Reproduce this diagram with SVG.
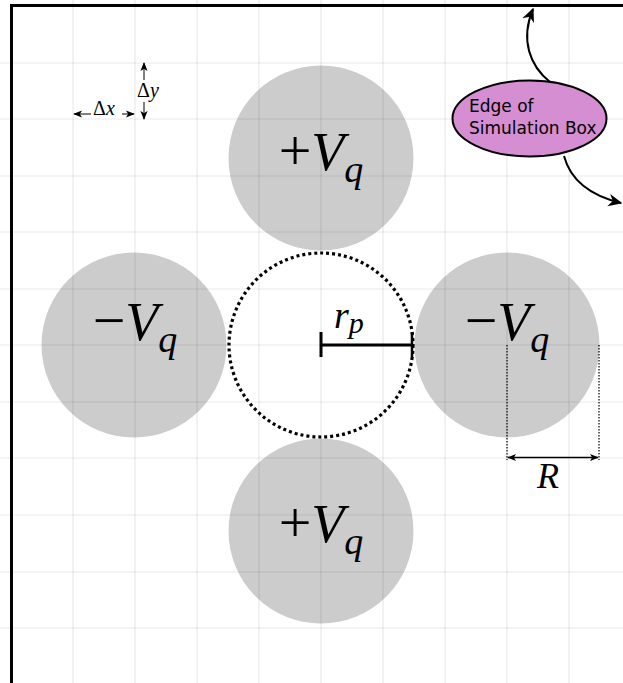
<svg xmlns="http://www.w3.org/2000/svg" width="623" height="683" viewBox="0 0 623 683">
<style>
.disk{fill:#cccccc}
.grid line{stroke:#000;stroke-opacity:0.09;stroke-width:1.2}
.math{font-family:"Liberation Serif","DejaVu Serif",serif;fill:#000}
.it{font-style:italic}
.conn{fill:none;stroke:#000}
.lbl{font-family:"DejaVu Sans","Liberation Sans",sans-serif;font-size:17px;fill:#000}
</style>
<defs>
<marker id="ah" viewBox="0 0 10 10" refX="9" refY="5" markerWidth="14" markerHeight="14" orient="auto" markerUnits="userSpaceOnUse">
<path d="M0,0.5 L10,5 L0,9.5 L3,5 Z" fill="#000"/>
</marker>
<marker id="sa" viewBox="0 0 10 10" refX="9" refY="5" markerWidth="9" markerHeight="9" orient="auto-start-reverse" markerUnits="userSpaceOnUse">
<path d="M0,1 L10,5 L0,9 L2.5,5 Z" fill="#000"/>
</marker>
</defs>
<rect width="623" height="683" fill="#fff"/>
<g id="disk-top"><circle class="disk" cx="321" cy="158" r="92.5"/></g>
<g id="disk-left"><circle class="disk" cx="134" cy="345" r="92.5"/></g>
<g id="disk-right"><circle class="disk" cx="507" cy="345" r="92.5"/></g>
<g id="disk-bottom"><circle class="disk" cx="321" cy="531" r="92.5"/></g>
<g class="grid">
<line x1="73" y1="0" x2="73" y2="683"/>
<line x1="135" y1="0" x2="135" y2="683"/>
<line x1="197" y1="0" x2="197" y2="683"/>
<line x1="259" y1="0" x2="259" y2="683"/>
<line x1="321" y1="0" x2="321" y2="683"/>
<line x1="383" y1="0" x2="383" y2="683"/>
<line x1="445" y1="0" x2="445" y2="683"/>
<line x1="507" y1="0" x2="507" y2="683"/>
<line x1="569" y1="0" x2="569" y2="683"/>
<line x1="0" y1="63" x2="623" y2="63"/>
<line x1="0" y1="119" x2="623" y2="119"/>
<line x1="0" y1="176" x2="623" y2="176"/>
<line x1="0" y1="232" x2="623" y2="232"/>
<line x1="0" y1="289" x2="623" y2="289"/>
<line x1="0" y1="345" x2="623" y2="345"/>
<line x1="0" y1="402" x2="623" y2="402"/>
<line x1="0" y1="458" x2="623" y2="458"/>
<line x1="0" y1="515" x2="623" y2="515"/>
<line x1="0" y1="572" x2="623" y2="572"/>
<line x1="0" y1="628" x2="623" y2="628"/>
</g>
<g id="border">
<line x1="10" y1="5.5" x2="623" y2="5.5" stroke="#000" stroke-width="3"/>
<line x1="11.5" y1="4" x2="11.5" y2="683" stroke="#000" stroke-width="3"/>
</g>
<g id="pore">
<circle cx="321" cy="345" r="92" fill="none" stroke="#000" stroke-width="3.2" stroke-dasharray="3 3"/>
</g>
<g id="labels">
<text class="math" x="321" y="170" text-anchor="middle" font-size="54"><tspan font-size="58">+</tspan><tspan class="it">V</tspan><tspan class="it" font-size="38" dy="12">q</tspan></text>
<text class="math" x="321" y="542" text-anchor="middle" font-size="54"><tspan font-size="58">+</tspan><tspan class="it">V</tspan><tspan class="it" font-size="38" dy="12">q</tspan></text>
<text class="math" x="135" y="340" text-anchor="middle" font-size="54"><tspan font-size="58">−</tspan><tspan class="it">V</tspan><tspan class="it" font-size="38" dy="12">q</tspan></text>
<text class="math" x="507" y="340" text-anchor="middle" font-size="54"><tspan font-size="58">−</tspan><tspan class="it">V</tspan><tspan class="it" font-size="38" dy="12">q</tspan></text>
</g>
<g id="rp">
<line x1="321" y1="345" x2="412" y2="345" stroke="#000" stroke-width="3"/>
<line x1="321" y1="332" x2="321" y2="357" stroke="#000" stroke-width="3"/>
<line x1="412" y1="332" x2="412" y2="357" stroke="#000" stroke-width="2.5"/>
<text class="math it" x="334" y="328" font-size="38">r<tspan font-size="30" dy="5">p</tspan></text>
</g>
<g id="R">
<line x1="507" y1="345" x2="507" y2="460" stroke="#000" stroke-width="1.2" stroke-dasharray="1.5 1.5"/>
<line x1="599" y1="345" x2="599" y2="460" stroke="#000" stroke-width="1.2" stroke-dasharray="1.5 1.5"/>
<line x1="508" y1="457.5" x2="598" y2="457.5" stroke="#000" stroke-width="1.6" marker-start="url(#sa)" marker-end="url(#sa)"/>
<text class="math it" x="548" y="488" text-anchor="middle" font-size="36">R</text>
</g>
<g id="deltas">
<line x1="74" y1="114" x2="91" y2="114" stroke="#000" stroke-width="1" marker-start="url(#sa)"/>
<line x1="122" y1="114" x2="134" y2="114" stroke="#000" stroke-width="1" marker-end="url(#sa)"/>
<text class="math" x="93" y="115" font-size="20">Δ<tspan class="it">x</tspan></text>
<line x1="144" y1="80" x2="144" y2="63" stroke="#000" stroke-width="1" marker-end="url(#sa)"/>
<line x1="144" y1="102" x2="144" y2="119" stroke="#000" stroke-width="1" marker-end="url(#sa)"/>
<text class="math" x="137" y="97" font-size="20">Δ<tspan class="it">y</tspan></text>
</g>
<g id="conn">
<path class="conn" d="M550,82 C530,66 520,40 533,9" stroke-width="2" marker-end="url(#ah)"/>
<path class="conn" d="M564,156 C571,182 592,196 621,203" stroke-width="2" marker-end="url(#ah)"/>
</g>
<g id="edge-box">
<ellipse cx="529.5" cy="118.5" rx="77" ry="38" fill="#d58ed2" stroke="#000" stroke-width="2"/>
<text class="lbl" x="469" y="112">Edge of</text>
<text class="lbl" x="469" y="134">Simulation Box</text>
</g>
</svg>
